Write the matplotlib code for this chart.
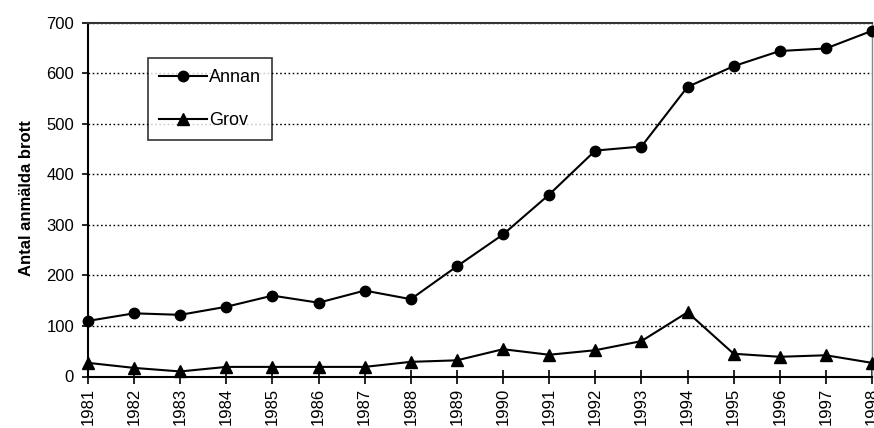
import matplotlib
matplotlib.use("Agg")
import matplotlib.pyplot as plt

years = list(range(1981, 1999))
annan = [110, 125, 122, 138, 160, 146, 170, 153, 218, 281, 360, 447, 455, 573, 614, 644, 649, 684]
grov = [27, 17, 10, 19, 19, 19, 19, 29, 32, 54, 43, 52, 70, 127, 45, 39, 42, 27]
year_labels = [str(y) for y in years]
ylabel = "Antal anmälda brott"

plt.rcParams['font.family'] = ['Liberation Sans', 'DejaVu Sans']

fig = plt.figure(figsize=(8.74, 4.28), dpi=100)
ax = fig.add_axes([88/874, 1 - 376.5/428, (872-88)/874, (376.5-22.7)/428])

ax.plot(years, annan, color='black', lw=1.5, marker='o', markersize=7.5, clip_on=False, label='Annan', zorder=3)
ax.plot(years, grov, color='black', lw=1.5, marker='^', markersize=8.5, clip_on=False, label='Grov', zorder=3)

ax.set_xlim(1981, 1998)
ax.set_ylim(0, 700)
ax.set_yticks(range(0, 701, 100))
ax.set_xticks(years)
ax.set_xticklabels(year_labels, rotation=90, fontsize=12)
ax.tick_params(axis='y', direction='out', length=4, width=1.2, labelsize=12, pad=6)
ax.tick_params(axis='x', direction='inout', length=10, width=1.2, pad=3)
ax.yaxis.grid(True, linestyle=(0, (1.2, 1.8)), color='black', lw=1)
ax.set_axisbelow(True)

ax.spines['left'].set_linewidth(1.5)
ax.spines['bottom'].set_linewidth(1.5)
ax.spines['top'].set_color('#333333')
ax.spines['top'].set_linewidth(1.5)
ax.spines['right'].set_color('#888888')
ax.spines['right'].set_linewidth(1)

fig.text(27/874, 1 - 198/428, ylabel, rotation=90, ha='center', va='center',
         fontsize=12, fontweight='bold')

leg = ax.legend(loc='upper left', bbox_to_anchor=((148-88)/784, (376.5-58.3)/353.8),
                frameon=True, fancybox=False, fontsize=13, borderpad=0.6,
                labelspacing=1.45, handlelength=2.65, handletextpad=0.12, borderaxespad=0)
leg.get_frame().set_edgecolor('black')
leg.get_frame().set_linewidth(1.2)

fig.savefig('out.png', dpi=100, facecolor='white')
